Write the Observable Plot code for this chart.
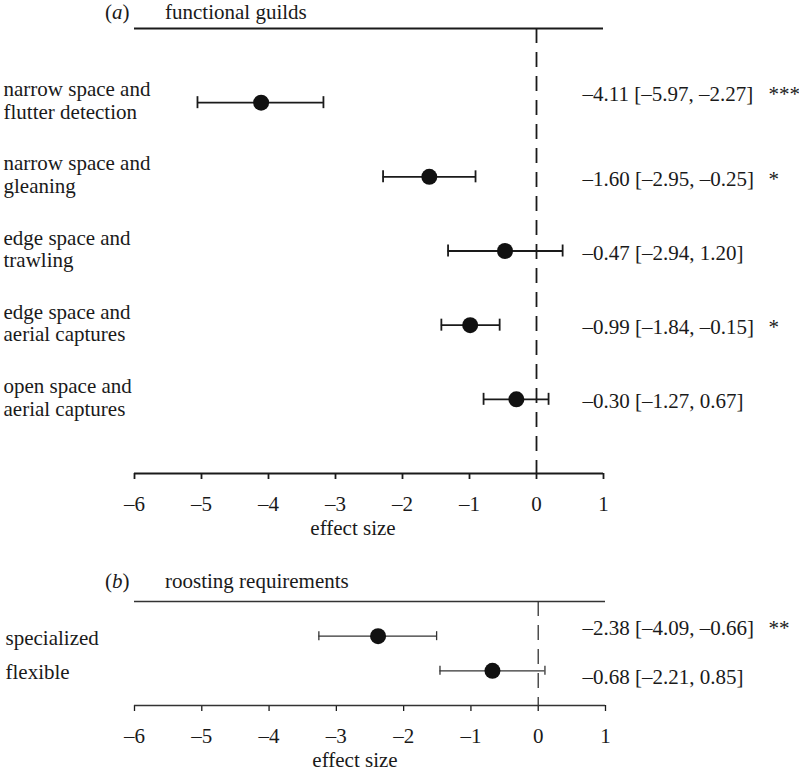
<!DOCTYPE html>
<html><head><meta charset="utf-8">
<script src="https://cdn.jsdelivr.net/npm/d3@7"></script>
<script src="https://cdn.jsdelivr.net/npm/@observablehq/plot@0.6"></script>
<style>
body{margin:0;background:#fff;}
#chart{position:relative;width:799px;height:772px;font-family:"Liberation Serif","Times New Roman",serif;color:#1a1a1a;overflow:hidden;}
.ttl{position:absolute;font-size:21px;line-height:24px;white-space:nowrap;}
#chart svg{display:block;}
#pa svg g[aria-label^="x-axis"] path, #pa svg g[aria-label^="x-axis"] line{stroke-width:1.8px;}
#pb svg g[aria-label^="x-axis"] path, #pb svg g[aria-label^="x-axis"] line{stroke-width:1.3px;}
</style></head><body>
<div id="chart">
  <div id="pa"></div>
  <div id="pb"></div>
  <div class="ttl" style="left:105px;top:0px">(<i>a</i>)</div>
  <div class="ttl" style="left:165px;top:0px">functional guilds</div>
  <div class="ttl" style="left:105px;top:569px">(<i>b</i>)</div>
  <div class="ttl" style="left:165px;top:569px">roosting requirements</div>
</div>
<script>
// ---- data: panel (a) functional guilds ----
const guildLabels = ["narrow space and\nflutter detection", "narrow space and\ngleaning", "edge space and\ntrawling", "edge space and\naerial captures", "open space and\naerial captures"];
const guildEst = [-4.11, -1.60, -0.47, -0.99, -0.30];
const guildCiLow = [-5.97, -2.95, -2.94, -1.84, -1.27];
const guildCiHigh = [-2.27, -0.25, 1.20, -0.15, 0.67];
const guildStars = ["***", "*", "", "*", ""];
const guildBarLow = [-5.06, -2.29, -1.32, -1.42, -0.79];
const guildBarHigh = [-3.18, -0.91, 0.39, -0.55, 0.18];

// ---- data: panel (b) roosting requirements ----
const roostLabels = ["specialized", "flexible"];
const roostEst = [-2.38, -0.68];
const roostCiLow = [-4.09, -2.21];
const roostCiHigh = [-0.66, 0.85];
const roostStars = ["**", ""];
const roostBarLow = [-3.26, -1.46];
const roostBarHigh = [-1.51, 0.10];

// ---- axis ----
const tickValues = [-6, -5, -4, -3, -2, -1, 0, 1];
const axisLabel = "effect size";

const fmt = v => (v < 0 ? "\u2013" : "") + Math.abs(v).toFixed(2);
const tickFmt = v => (v < 0 ? "\u2013" : "") + Math.abs(v);

function panel(cfg) {
  const n = cfg.labels.length;
  const data = cfg.labels.map((label, i) => ({
    label, row: i + 1, est: cfg.est[i], lo: cfg.barLow[i], hi: cfg.barHigh[i],
    ann: `${fmt(cfg.est[i])} [${fmt(cfg.ciLow[i])}, ${fmt(cfg.ciHigh[i])}]`,
    stars: cfg.stars[i]
  }));
  const step = (cfg.height - cfg.marginTop - cfg.marginBottom) / (n + 1);
  const cap = cfg.capPx / step;
  const ink = cfg.ink, lw = cfg.lw;
  return Plot.plot({
    width: 799,
    height: cfg.height,
    marginTop: cfg.marginTop,
    marginBottom: cfg.marginBottom,
    marginLeft: 134,
    marginRight: cfg.marginRight,
    style: {fontFamily: '"Liberation Serif","Times New Roman",serif', fontSize: "21px", color: "#1a1a1a", background: "#fff", overflow: "visible"},
    x: {domain: [-6, 1], ticks: tickValues, tickFormat: tickFmt, tickSize: 6, tickPadding: 17, label: null},
    y: {domain: [0, n + 1], reverse: true, axis: null},
    marks: [
      Plot.ruleY([0], {stroke: ink, strokeWidth: lw}),
      Plot.ruleY([n + 1], {stroke: ink, strokeWidth: lw}),
      Plot.ruleX([0], {y1: 0, y2: n + 1, stroke: ink, strokeWidth: lw, strokeDasharray: "15,9"}),
      Plot.ruleY(data, {y: "row", x1: "lo", x2: "hi", stroke: ink, strokeWidth: lw}),
      Plot.ruleX(data, {x: "lo", y1: d => d.row - cap, y2: d => d.row + cap, stroke: ink, strokeWidth: lw}),
      Plot.ruleX(data, {x: "hi", y1: d => d.row - cap, y2: d => d.row + cap, stroke: ink, strokeWidth: lw}),
      Plot.dot(data, {x: "est", y: "row", r: 8, fill: "#111", stroke: "none"}),
      Plot.text(data, {y: "row", text: "label", frameAnchor: "left", textAnchor: "start", dx: cfg.labelDx, dy: cfg.labelDy, lineHeight: 1.08, fontSize: 21, fill: "#1a1a1a"}),
      Plot.text(data, {filter: d => d.row === 1, y: "row", text: "ann", frameAnchor: "right", textAnchor: "start", dx: cfg.annDx, dy: cfg.annDy0, fontSize: 21, fill: "#1a1a1a"}),
      Plot.text(data, {filter: d => d.row !== 1, y: "row", text: "ann", frameAnchor: "right", textAnchor: "start", dx: cfg.annDx, dy: cfg.annDy, fontSize: 21, fill: "#1a1a1a"}),
      Plot.text(data, {filter: d => d.row === 1, y: "row", text: "stars", frameAnchor: "right", textAnchor: "start", dx: cfg.starDx, dy: cfg.annDy0, fontSize: 21, fill: "#1a1a1a"}),
      Plot.text(data, {filter: d => d.row !== 1, y: "row", text: "stars", frameAnchor: "right", textAnchor: "start", dx: cfg.starDx, dy: cfg.annDy, fontSize: 21, fill: "#1a1a1a"}),
      Plot.text([axisLabel], {text: d => d, frameAnchor: "bottom", lineAnchor: "middle", dx: cfg.labelXdx, dy: 55, fontSize: 21, fill: "#1a1a1a"})
    ]
  });
}

document.getElementById("pa").append(panel({
  labels: guildLabels, est: guildEst, ciLow: guildCiLow, ciHigh: guildCiHigh, stars: guildStars,
  barLow: guildBarLow, barHigh: guildBarHigh,
  height: 545, marginTop: 28, marginBottom: 72, marginRight: 196,
  ink: "#1a1a1a", lw: 1.8, capPx: 6,
  labelDx: -131, labelDy: -2.4, annDx: -21, starDx: 165, annDy0: -8.5, annDy: 2, labelXdx: -16
}));

document.getElementById("pb").append(panel({
  labels: roostLabels, est: roostEst, ciLow: roostCiLow, ciHigh: roostCiHigh, stars: roostStars,
  barLow: roostBarLow, barHigh: roostBarHigh,
  height: 227, marginTop: 56, marginBottom: 67, marginRight: 194,
  ink: "#333", lw: 1.3, capPx: 4.5,
  labelDx: -129, labelDy: 1.3, annDx: -23, starDx: 163, annDy0: -7.7, annDy: 6.3, labelXdx: -15
}));
</script>
</body></html>
